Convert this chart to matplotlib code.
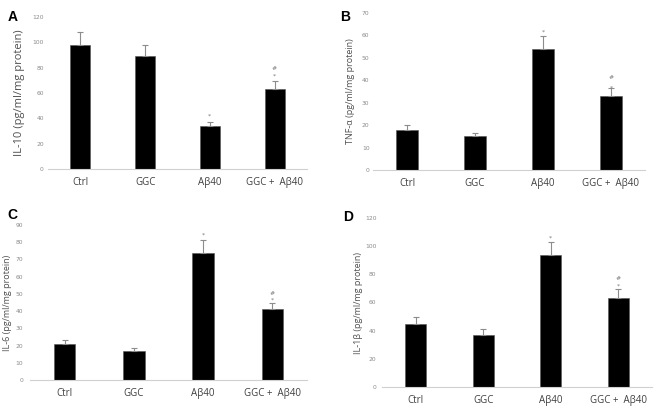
import matplotlib

matplotlib.use("Agg")
import matplotlib.pyplot as plt
import numpy as np

groups = ["Ctrl", "GGC", "Aβ40", "GGC +  Aβ40"]

il10 = [98, 89, 34, 63]
il10_err = [10, 9, 3.5, 6.5]
tnf = [18, 15, 54, 33]
tnf_err = [2, 1.5, 5.5, 3.5]
il6 = [21, 17, 74, 41]
il6_err = [2, 1.5, 7.5, 4]
il1b = [45, 37, 94, 63]
il1b_err = [4.5, 4, 9, 6.5]

# significance marks: (group index, y value, text)
il10_marks = [(2, 41.5, "*"), (3, 73, "*"), (3, 79, "#")]
tnf_marks = [(2, 61.5, "*"), (3, 36.5, "*"), (3, 41, "#")]
il6_marks = [(2, 84, "*"), (3, 46.5, "*"), (3, 50.5, "#")]
il1b_marks = [(2, 106, "*"), (3, 72, "*"), (3, 77, "#")]

W, H = 661, 412
fig = plt.figure(figsize=(W / 100, H / 100), dpi=100)


def px_axes(x0, x1, y_top, y_zero):
    return fig.add_axes([x0 / W, (H - y_zero) / H, (x1 - x0) / W, (y_zero - y_top) / H])


panels = [
    # letter, letter pos, axes box, values, errs, marks, ymax, ylabel, ylabel size, label x, tick pad
    ("A", (8, 17), (48, 307, 17, 169), il10, il10_err, il10_marks, 120,
     "IL-10 (pg/ml/mg protein)", 8, -0.089, 3),
    ("B", (340, 17), (373, 645, 12.7, 170), tnf, tnf_err, tnf_marks, 70,
     "TNF-α (pg/ml/mg protein)", 6.5, -0.066, 2.5),
    ("C", (7, 215), (30, 307, 225, 380), il6, il6_err, il6_marks, 90,
     "IL-6 (pg/ml/mg protein)", 6.5, -0.065, 5),
    ("D", (343, 217), (382, 652, 218, 387), il1b, il1b_err, il1b_marks, 120,
     "IL-1β (pg/ml/mg protein)", 6.5, -0.072, 4),
]

for letter, lpos, box, vals, errs, marks, ymax, ylabel, ysize, labx, tpad in panels:
    ax = px_axes(*box)
    x = np.arange(len(groups))
    ax.bar(x, vals, width=0.31, color="black", edgecolor="#555555", linewidth=0.4,
           yerr=[np.zeros(len(errs)), errs], ecolor="#8c8c8c",
           error_kw=dict(capsize=2, elinewidth=0.8, capthick=0.8))
    for i, yv, txt in marks:
        ax.text(i, yv, txt, ha="center", va="center", fontsize=4.5, color="#777777")
    ax.set_xlim(-0.5, 3.5)
    ax.set_ylim(0, ymax)
    step = 20 if ymax == 120 else 10
    ax.set_yticks(np.arange(0, ymax + 1, step))
    ax.set_xticks(x)
    ax.set_xticklabels(groups, fontsize=7, color="#404040", family="Open Sans")
    ax.tick_params(axis="y", length=0, labelsize=4.3, labelcolor="#8a8a8a", pad=tpad)
    ax.tick_params(axis="x", length=0, pad=6)
    for side in ["top", "right", "left"]:
        ax.spines[side].set_visible(False)
    ax.spines["bottom"].set_color("#d0d0d0")
    ax.spines["bottom"].set_linewidth(0.8)
    ax.set_ylabel(ylabel, fontsize=ysize, color="#505050", family="Open Sans")
    ax.yaxis.set_label_coords(labx, 0.5)
    fig.text(lpos[0] / W, 1 - lpos[1] / H, letter, fontsize=10, fontweight="bold",
             family="Liberation Sans", ha="left", va="center")

fig.savefig("out.png", dpi=100)
